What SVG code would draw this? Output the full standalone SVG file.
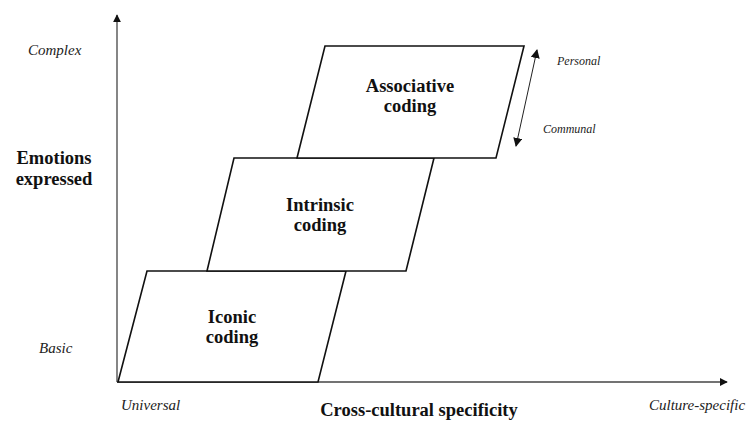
<svg xmlns="http://www.w3.org/2000/svg" width="750" height="421" viewBox="0 0 750 421">
<style>
.box{fill:#fff;stroke:#111;stroke-width:1.6;stroke-linejoin:miter}
.axis{fill:none;stroke:#444;stroke-width:1.3}
.thin{fill:none;stroke:#222;stroke-width:1}
.bold{font-family:"Liberation Serif","Times New Roman",serif;font-weight:bold;font-size:18.5px;fill:#111;text-anchor:middle}
.it{font-family:"Liberation Serif","Times New Roman",serif;font-style:italic;font-size:15px;fill:#222}
.its{font-family:"Liberation Serif","Times New Roman",serif;font-style:italic;font-size:12px;fill:#222}
</style>
<defs>
<marker id="ah" viewBox="0 0 10 10" refX="9" refY="5" markerWidth="8" markerHeight="8" markerUnits="userSpaceOnUse" orient="auto-start-reverse">
<path d="M0,0 L10,5 L0,10 z" fill="#111"/>
</marker>
<marker id="ah2" viewBox="0 0 10 10" refX="9" refY="5" markerWidth="9" markerHeight="9" markerUnits="userSpaceOnUse" orient="auto-start-reverse">
<path d="M0,0 L10,5 L0,10 z" fill="#111"/>
</marker>
</defs>
<g id="connectors">
<line class="axis" x1="117" y1="382" x2="117" y2="15" marker-end="url(#ah)"/>
<line class="axis" x1="117" y1="382" x2="727" y2="382" marker-end="url(#ah)"/>
<line class="thin" x1="537" y1="50" x2="516" y2="146" marker-start="url(#ah2)" marker-end="url(#ah2)"/>
</g>
<g id="iconic">
<polygon class="box" points="147,271 346,271 318,382 118,382"/>
<text class="bold" x="232" y="323">Iconic</text>
<text class="bold" x="232" y="343">coding</text>
</g>
<g id="intrinsic">
<polygon class="box" points="234,158 434,158 406,271 207,271"/>
<text class="bold" x="320" y="211">Intrinsic</text>
<text class="bold" x="320" y="231">coding</text>
</g>
<g id="associative">
<polygon class="box" points="325,46 524,46 496,158 297,158"/>
<text class="bold" x="410" y="92">Associative</text>
<text class="bold" x="410" y="112">coding</text>
</g>
<g id="labels">
<text class="it" x="28" y="55">Complex</text>
<text class="it" x="39" y="353">Basic</text>
<text class="bold" x="54" y="164">Emotions</text>
<text class="bold" x="54" y="185">expressed</text>
<text class="it" x="121" y="410">Universal</text>
<text class="bold" x="419" y="416">Cross-cultural specificity</text>
<text class="it" x="649" y="410">Culture-specific</text>
<text class="its" x="557" y="65">Personal</text>
<text class="its" x="543" y="133">Communal</text>
</g>
</svg>
